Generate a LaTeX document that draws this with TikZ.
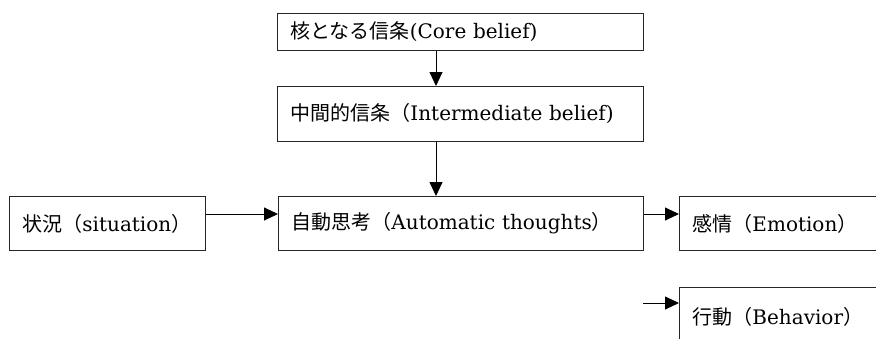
\documentclass[tikz,border=0pt]{standalone}
\usepackage{fontspec}
\setmainfont{DejaVu Serif}
\newfontfamily\cjkfont{Noto Sans CJK JP}
\usetikzlibrary{arrows.meta}
\newcommand\jp[1]{{\cjkfont #1}}
\begin{document}
\begin{tikzpicture}[x=1pt,y=-1pt,
  box/.style={draw=black!85, line width=0.9pt, rectangle, anchor=north west,
    inner xsep=13pt, inner ysep=0pt, align=left, font=\fontsize{20}{22}\selectfont},
  arr/.style={draw=black, line width=0.9pt, -{Triangle[length=14pt,width=13pt]}}]
\useasboundingbox (0,0) rectangle (876,338);
\clip (0,0) rectangle (876,338);
\node[box, text width=340pt, minimum height=37pt] (core) at (277,13)
  {\jp{核となる信条}(Core belief)};
\node[box, text width=340pt, minimum height=55pt] (inter) at (277,86)
  {\jp{中間的信条（}Intermediate belief)};
\node[box, text width=170pt, minimum height=54pt] (sit) at (9,196)
  {\jp{状況（}situation\jp{）}};
\node[box, text width=339pt, minimum height=54pt] (auto) at (278,196)
  {\jp{自動思考（}Automatic thoughts\jp{）}};
\node[box, text width=234pt, minimum height=54pt] (emo) at (679,196)
  {\jp{感情（}Emotion\jp{）}};
\node[box, text width=234pt, minimum height=58pt] (beh) at (679,287)
  {\jp{行動（}Behavior\jp{）}};
\coordinate (ax) at (436,0);
\coordinate (ay) at (0,214);
\coordinate (bstart) at (643,303);
\draw[arr] (core.south -| ax) -- (inter.north -| ax);
\draw[arr] (inter.south -| ax) -- (auto.north -| ax);
\draw[arr] (sit.east |- ay) -- (auto.west |- ay);
\draw[arr] (auto.east |- ay) -- (emo.west |- ay);
\draw[arr] (bstart) -- (beh.west |- bstart);
\end{tikzpicture}
\end{document}
